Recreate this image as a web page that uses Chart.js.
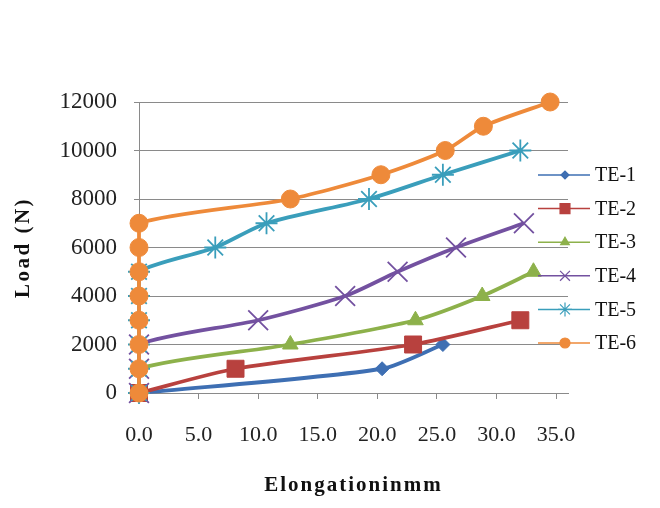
<!DOCTYPE html>
<html>
<head>
<meta charset="utf-8">
<script src="https://cdn.jsdelivr.net/npm/chart.js@4.4.1/dist/chart.umd.min.js"></script>
<style>
  html, body { margin: 0; padding: 0; background: #ffffff; }
  #wrap { width: 660px; height: 508px; }
</style>
</head>
<body>
<div id="wrap"><canvas id="c" width="660" height="508"></canvas></div>
<script>
// ---- data ----
const seriesNames = ['TE-1', 'TE-2', 'TE-3', 'TE-4', 'TE-5', 'TE-6'];

const te1Elong = [0, 20.4, 25.5];
const te1Load  = [0, 1000, 2000];

const te2Elong = [0, 8.1, 23.0, 32.0];
const te2Load  = [0, 1000, 2000, 3000];

const te3Elong = [0, 0, 12.7, 23.2, 28.8, 33.1];
const te3Load  = [0, 1000, 2000, 3000, 4000, 5000];

const te4Elong = [0, 0, 0, 10.0, 17.3, 21.7, 26.6, 32.3];
const te4Load  = [0, 1000, 2000, 3000, 4000, 5000, 6000, 7000];

const te5Elong = [0, 0, 0, 0, 0, 0, 6.4, 10.7, 19.3, 25.5, 32.0];
const te5Load  = [0, 1000, 2000, 3000, 4000, 5000, 6000, 7000, 8000, 9000, 10000];

const te6Elong = [0, 0, 0, 0, 0, 0, 0, 0, 12.7, 20.3, 25.7, 28.9, 34.5];
const te6Load  = [0, 1000, 2000, 3000, 4000, 5000, 6000, 7000, 8000, 9000, 10000, 11000, 12000];

const xTickValues = [0, 5, 10, 15, 20, 25, 30, 35];
const yTickValues = [0, 2000, 4000, 6000, 8000, 10000, 12000];

const xAxisTitle = 'Elongationinmm';
const yAxisTitle = 'Load (N)';

// ---- styling ----
const colors = ['#3E6FB3', '#B8413E', '#8DB14B', '#7351A0', '#3A9EBB', '#EE8A3A'];
const styles = ['rectRot', 'rect', 'triangle', 'crossRot', 'star', 'circle'];
const radii = [7, 12, 9, 14, 11, 9];
const legendRadii = [4, 7, 5, 7, 7, 5];

const xs = [te1Elong, te2Elong, te3Elong, te4Elong, te5Elong, te6Elong];
const ys = [te1Load, te2Load, te3Load, te4Load, te5Load, te6Load];

const datasets = seriesNames.map((name, i) => ({
  label: name,
  data: xs[i].map((x, k) => ({ x: x, y: ys[i][k] })),
  showLine: true,
  borderColor: colors[i],
  backgroundColor: colors[i],
  borderWidth: 3.8,
  tension: 0.25,
  pointStyle: styles[i],
  pointRadius: radii[i],
  pointBorderWidth: (styles[i] === 'crossRot' || styles[i] === 'star') ? 1.8 : 1,
  pointBorderColor: colors[i],
  pointBackgroundColor: colors[i],
  clip: false,
  order: seriesNames.length - 1 - i
}));

const serif = '"Liberation Serif", "Times New Roman", serif';

const sideLegend = {
  id: 'sideLegend',
  afterDraw(chart) {
    const ctx = chart.ctx;
    chart.data.datasets.forEach((ds, i) => {
      const y = 175 + i * 33.6;
      ctx.save();
      ctx.strokeStyle = ds.borderColor;
      ctx.fillStyle = ds.borderColor;
      ctx.lineWidth = 1.5;
      ctx.beginPath();
      ctx.moveTo(538, y);
      ctx.lineTo(590, y);
      ctx.stroke();
      ctx.lineWidth = 1.2;
      Chart.helpers.drawPoint(ctx, { pointStyle: ds.pointStyle, radius: legendRadii[i], borderWidth: 1.2, rotation: 0 }, 565, y);
      ctx.fillStyle = '#111';
      ctx.font = '20px ' + serif;
      ctx.textAlign = 'left';
      ctx.textBaseline = 'middle';
      ctx.fillText(ds.label, 595, y + 1);
      ctx.restore();
    });
  }
};

// axis titles drawn with letter spacing (as in the reference)
const spacedTitles = {
  id: 'spacedTitles',
  afterDraw(chart) {
    const ctx = chart.ctx;
    const area = chart.chartArea;
    ctx.save();
    ctx.fillStyle = '#111';
    ctx.font = 'bold 21px ' + serif;
    ctx.textAlign = 'center';
    ctx.textBaseline = 'alphabetic';
    ctx.letterSpacing = '2px';
    ctx.fillText(xAxisTitle, (area.left + area.right) / 2, 491);
    ctx.restore();

    ctx.save();
    ctx.fillStyle = '#111';
    ctx.font = 'bold 21px ' + serif;
    ctx.textAlign = 'center';
    ctx.textBaseline = 'middle';
    ctx.letterSpacing = '2.5px';
    ctx.translate(24, (area.top + area.bottom) / 2);
    ctx.rotate(-Math.PI / 2);
    ctx.fillText(yAxisTitle, 0, 0);
    ctx.restore();
  }
};

new Chart(document.getElementById('c'), {
  type: 'scatter',
  data: { datasets: datasets },
  options: {
    responsive: false,
    animation: false,
    devicePixelRatio: 1,
    layout: { padding: { top: 102, right: 92, left: 0, bottom: 0 } },
    plugins: {
      legend: { display: false },
      tooltip: { enabled: false }
    },
    scales: {
      x: {
        type: 'linear',
        min: 0,
        max: 36,
        afterBuildTicks: (scale) => { scale.ticks = xTickValues.map(v => ({ value: v })); },
        afterFit: (scale) => { scale.height = 115; },
        border: { display: true, color: '#8a8a8a', width: 1 },
        grid: { drawOnChartArea: false, drawTicks: true, tickLength: 6, color: '#8a8a8a' },
        ticks: {
          autoSkip: false,
          maxRotation: 0,
          padding: 23,
          color: '#222',
          font: { family: serif, size: 22 },
          callback: (v) => Number(v).toFixed(1)
        },
        title: { display: false }
      },
      y: {
        type: 'linear',
        min: 0,
        max: 12000,
        afterBuildTicks: (scale) => { scale.ticks = yTickValues.map(v => ({ value: v })); },
        afterFit: (scale) => { scale.width = 139; },
        border: { display: true, color: '#8a8a8a', width: 1 },
        grid: { drawOnChartArea: true, drawTicks: true, tickLength: 5, color: '#8a8a8a', lineWidth: 1 },
        ticks: {
          padding: 17,
          color: '#222',
          font: { family: serif, size: 23 },
          callback: (v) => String(v)
        },
        title: { display: false }
      }
    }
  },
  plugins: [sideLegend, spacedTitles]
});
</script>
</body>
</html>
